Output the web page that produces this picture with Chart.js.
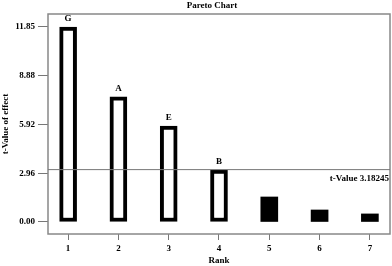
<!DOCTYPE html>
<html>
<head>
<meta charset="utf-8">
<script src="https://cdn.jsdelivr.net/npm/chart.js@4/dist/chart.umd.min.js"></script>
<style>
  html, body { margin: 0; padding: 0; background: #fff; }
  #wrap { width: 392px; height: 266px; }
</style>
</head>
<body>
<div id="wrap"><canvas id="chart"></canvas></div>
<script>
// data
const ranks = [1, 2, 3, 4, 5, 6, 7];
const factors = ["G", "A", "E", "B", "", "", ""];
const tValues = [11.85, 7.6, 5.83, 3.15, 1.52, 0.73, 0.49];
const yTicks = [0, 2.96, 5.92, 8.88, 11.85];
const tCritical = 3.18245;
const significant = tValues.map(v => v > tCritical - 0.1);

const serif = "'Liberation Serif', 'Times New Roman', serif";

// frame, critical line, bar letters and title
const extras = {
  id: "extras",
  afterDatasetsDraw(chart) {
    const { ctx, chartArea: a, scales } = chart;
    ctx.save();
    ctx.strokeStyle = "#888";
    ctx.lineWidth = 1.5;
    ctx.strokeRect(a.left, a.top, a.right - a.left, a.bottom - a.top);

    const yLine = scales.y.getPixelForValue(tCritical);
    ctx.strokeStyle = "#777";
    ctx.lineWidth = 1;
    ctx.beginPath();
    ctx.moveTo(a.left, yLine);
    ctx.lineTo(a.right, yLine);
    ctx.stroke();

    ctx.fillStyle = "#000";
    ctx.font = "bold 9px " + serif;
    ctx.textAlign = "right";
    ctx.textBaseline = "middle";
    ctx.fillText("t-Value " + tCritical, a.right - 1, yLine + 9);

    ctx.textAlign = "center";
    ranks.forEach((r, i) => {
      if (!factors[i]) return;
      const x = scales.x.getPixelForValue(r);
      const y = scales.y.getPixelForValue(tValues[i]);
      ctx.fillText(factors[i], x, y - 8);
    });

    ctx.fillText("Pareto Chart", 212, 6);
    ctx.restore();
  }
};

new Chart(document.getElementById("chart"), {
  type: "bar",
  data: {
    datasets: [{
      data: ranks.map((r, i) => ({ x: r, y: tValues[i] })),
      backgroundColor: significant.map(s => s ? "#fff" : "#000"),
      borderColor: "#000",
      borderWidth: significant.map(s => s ? 4 : 0),
      borderSkipped: false,
      barThickness: 17
    }]
  },
  options: {
    responsive: true,
    maintainAspectRatio: false,
    animation: false,
    layout: { padding: { top: 14, right: 2, left: 0, bottom: 0 } },
    plugins: {
      legend: { display: false },
      tooltip: { enabled: false }
    },
    scales: {
      x: {
        type: "linear",
        offset: false,
        min: 0.6,
        max: 7.4,
        afterBuildTicks: s => { s.ticks = ranks.map(v => ({ value: v })); },
        afterFit: s => { s.height = 32; },
        grid: { offset: false, drawOnChartArea: false, tickLength: 6, color: "#777", lineWidth: 1 },
        border: { display: false },
        ticks: {
          padding: 3,
          color: "#000",
          font: { family: serif, weight: "bold", size: 9 }
        },
        title: {
          display: true,
          text: "Rank",
          color: "#000",
          padding: { top: 0, bottom: 0 },
          font: { family: serif, weight: "bold", size: 9 }
        }
      },
      y: {
        min: -0.73,
        max: 12.64,
        afterBuildTicks: s => { s.ticks = yTicks.map(v => ({ value: v })); },
        afterFit: s => { s.width = 48; },
        grid: { drawOnChartArea: false, tickLength: 10, color: "#777", lineWidth: 1 },
        border: { display: false },
        ticks: {
          padding: 3,
          color: "#000",
          callback: v => v.toFixed(2),
          font: { family: serif, weight: "bold", size: 9 }
        },
        title: {
          display: true,
          text: "t-Value of effect",
          color: "#000",
          padding: { top: 0, bottom: 0 },
          font: { family: serif, weight: "bold", size: 9 }
        }
      }
    }
  },
  plugins: [extras]
});
</script>
</body>
</html>
